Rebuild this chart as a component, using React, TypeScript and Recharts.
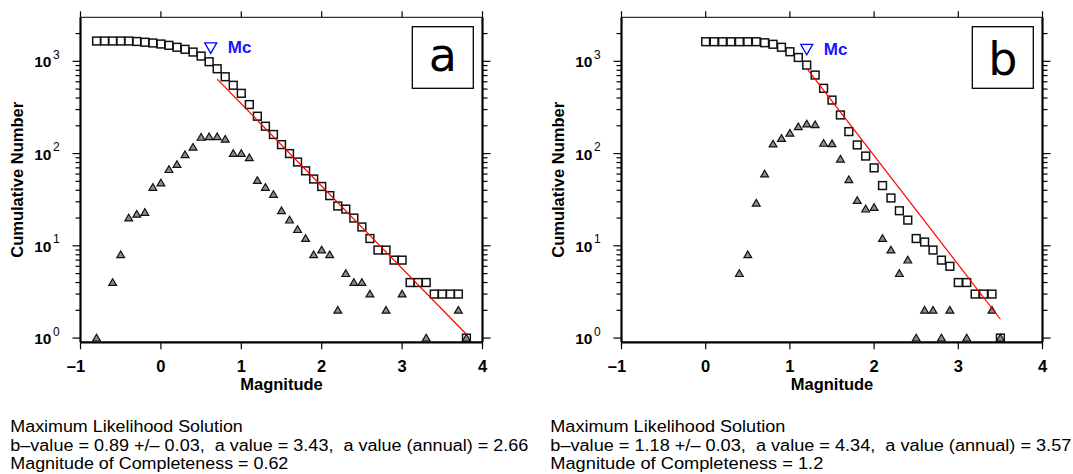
import React from "react";
import { ScatterChart, Scatter, XAxis, YAxis } from "recharts";

// panel a: cumulative counts per magnitude bin
const magsA = [-0.8, -0.7, -0.6, -0.5, -0.4, -0.3, -0.2, -0.1, 0, 0.1, 0.2, 0.3, 0.4, 0.5, 0.6, 0.7, 0.8, 0.9, 1, 1.1, 1.2, 1.3, 1.4, 1.5, 1.6, 1.7, 1.8, 1.9, 2, 2.1, 2.2, 2.3, 2.4, 2.5, 2.6, 2.7, 2.8, 2.9, 3, 3.1, 3.2, 3.3, 3.4, 3.5, 3.6, 3.7, 3.8];
const cumA = [1660, 1660, 1660, 1660, 1660, 1640, 1610, 1580, 1540, 1490, 1420, 1350, 1260, 1140, 990, 830, 680, 550, 450, 340, 254, 198, 161, 125, 100, 81, 65, 53, 44, 35, 27, 25, 20, 16, 12, 9, 9, 7, 7, 4, 4, 4, 3, 3, 3, 3, 1];
// panel a: non-cumulative counts
const binMagsA = [-0.8, -0.6, -0.5, -0.4, -0.3, -0.2, -0.1, 0, 0.1, 0.2, 0.3, 0.4, 0.5, 0.6, 0.7, 0.8, 0.9, 1, 1.1, 1.2, 1.3, 1.4, 1.5, 1.6, 1.7, 1.8, 1.9, 2, 2.1, 2.2, 2.3, 2.4, 2.5, 2.6, 2.8, 3, 3.3, 3.7, 3.8];
const binA = [1, 4, 8, 20, 22, 23, 43, 48, 67, 76, 97, 117, 150, 152, 152, 143, 100, 100, 90, 51, 43, 36, 24, 19, 15, 12, 8, 9, 8, 2, 5, 4, 4, 3, 2, 3, 1, 2, 1];
const fitMagsA = [0.7, 3.8];
const fitA = [640, 1.1];
const mcA = { m: 0.62, n: 1400 };

// panel b
const magsB = [0, 0.1, 0.2, 0.3, 0.4, 0.5, 0.6, 0.7, 0.8, 0.9, 1, 1.1, 1.2, 1.3, 1.4, 1.5, 1.6, 1.7, 1.8, 1.9, 2, 2.1, 2.2, 2.3, 2.4, 2.5, 2.6, 2.7, 2.8, 2.9, 3, 3.1, 3.2, 3.3, 3.4, 3.5];
const cumB = [1630, 1630, 1630, 1630, 1630, 1630, 1630, 1590, 1530, 1420, 1270, 1100, 910, 710, 510, 380, 262, 173, 124, 94, 70, 45, 33, 24, 19, 12, 11, 9, 7, 6, 4, 4, 3, 3, 3, 1];
const binMagsB = [0.4, 0.5, 0.6, 0.7, 0.8, 0.9, 1, 1.1, 1.2, 1.3, 1.4, 1.5, 1.6, 1.7, 1.8, 1.9, 2, 2.1, 2.2, 2.3, 2.4, 2.5, 2.6, 2.7, 2.8, 2.9, 3.1, 3.4, 3.5];
const binB = [5, 8, 29, 60, 127, 146, 166, 195, 209, 205, 129, 128, 87, 52, 31, 25, 26, 12, 9, 5, 7, 1, 2, 2, 1, 2, 1, 2, 1];
const fitMagsB = [1.2, 3.5];
const fitB = [840, 1.6];
const mcB = { m: 1.2, n: 1350 };

const xTicks = [-1, 0, 1, 2, 3, 4];
const yTicks = [1, 2, 3, 4, 5, 6, 7, 8, 9, 10, 20, 30, 40, 50, 60, 70, 80, 90, 100, 200, 300, 400, 500, 600, 700, 800, 900, 1000, 2000];

const textA = [
  "Maximum Likelihood Solution",
  "b\u2013value = 0.89 +/\u2013 0.03,  a value = 3.43,  a value (annual) = 2.66",
  "Magnitude of Completeness = 0.62",
];
const textB = [
  "Maximum Likelihood Solution",
  "b\u2013value = 1.18 +/\u2013 0.03,  a value = 4.34,  a value (annual) = 3.57",
  "Magnitude of Completeness = 1.2",
];

const W = 1073;
const H = 474;
const PLOT_TOP = 17.3;
const PLOT_BOTTOM = 342.3;
const FONT = "'Liberation Sans', Arial, Helvetica, sans-serif";

const pts = (ms: number[], ns: number[]) => ms.map((m, i) => ({ m, n: ns[i] }));

const isMajor = (v: number) => {
  const lg = Math.log10(v);
  return Math.abs(lg - Math.round(lg)) < 1e-6;
};

function LeftTick(props: any) {
  const { x, y, payload } = props;
  const v = payload.value;
  const major = isMajor(v);
  return (
    <g>
      <line x1={x - (major ? 8 : 5)} x2={x} y1={y} y2={y} stroke="#000" strokeWidth={1.2} />
      {major && (
        <g fontFamily={FONT} fill="#000">
          <text x={x - 29} y={y + 6} textAnchor="end" fontWeight="bold" fontSize={15.5}>10</text>
          <text x={x - 27.5} y={y - 2.5} fontSize={12}>{Math.round(Math.log10(v))}</text>
        </g>
      )}
    </g>
  );
}

function RightTick(props: any) {
  const { x, y, payload } = props;
  const major = isMajor(payload.value);
  return <line x1={x} x2={x + (major ? 8 : 5)} y1={y} y2={y} stroke="#000" strokeWidth={1.2} />;
}

function BottomTick(props: any) {
  const { x, y, payload } = props;
  const v = payload.value as number;
  return (
    <g>
      <line x1={x} x2={x} y1={y} y2={y + 7} stroke="#000" strokeWidth={1.2} />
      <text x={x} y={y + 30} textAnchor="middle" fontFamily={FONT} fontWeight="bold" fontSize={16.5} fill="#000">
        {Math.abs(v)}
      </text>
      {v < 0 && (
        <text x={x - 4.5} y={y + 30} textAnchor="end" fontFamily={FONT} fontWeight="bold" fontSize={16.5} fill="#000">
          {"\u2013"}
        </text>
      )}
    </g>
  );
}

function TopTick(props: any) {
  const { x, y } = props;
  return <line x1={x} x2={x} y1={y} y2={y - 6} stroke="#000" strokeWidth={1.2} />;
}

const Square = (p: any) => (
  <rect x={p.cx - 3.9} y={p.cy - 3.9} width={7.8} height={7.8} fill="none" stroke="#111" strokeWidth={1.5} />
);

const Tri = (p: any) => (
  <polygon
    points={`${p.cx},${p.cy - 3.8} ${p.cx + 3.9},${p.cy + 2.9} ${p.cx - 3.9},${p.cy + 2.9}`}
    fill="#8c8c8c"
    stroke="#111"
    strokeWidth={1.2}
  />
);

const McMark = (p: any) => (
  <g>
    <polygon
      points={`${p.cx - 6},${p.cy - 5} ${p.cx + 6},${p.cy - 5} ${p.cx},${p.cy + 5.5}`}
      fill="none"
      stroke="#0000ff"
      strokeWidth={1.3}
    />
    <text x={p.cx + 17} y={p.cy + 5.5} fill="#1515ff" fontFamily={FONT} fontWeight="bold" fontSize={17}>Mc</text>
  </g>
);

const NoDot = () => <g />;

type PanelProps = {
  left: number;
  width: number;
  plotLeft: number;
  plotRight: number;
  squares: { m: number; n: number }[];
  triangles: { m: number; n: number }[];
  fit: { m: number; n: number }[];
  mc: { m: number; n: number };
};

// axes get 1px of room (recharts skips drawing zero-size axes); margins absorb it
function Panel({ left, width, plotLeft, plotRight, squares, triangles, fit, mc }: PanelProps) {
  const axisLine = { stroke: "#000", strokeWidth: 2.2 };
  return (
    <div style={{ position: "absolute", left, top: 0, width, height: H }}>
      <ScatterChart
        width={width}
        height={H}
        margin={{ top: PLOT_TOP - 1, right: width - plotRight - 1, bottom: H - PLOT_BOTTOM - 1, left: plotLeft - 1 }}
      >
        <XAxis
          xAxisId="b"
          type="number"
          dataKey="m"
          domain={[-1, 4]}
          ticks={xTicks}
          interval={0}
          allowDataOverflow
          height={1}
          tickSize={0}
          tickMargin={0}
          tickLine={false}
          axisLine={axisLine}
          tick={(p: any) => <BottomTick {...p} />}
        />
        <XAxis
          xAxisId="t"
          orientation="top"
          type="number"
          dataKey="m"
          domain={[-1, 4]}
          ticks={xTicks}
          interval={0}
          allowDataOverflow
          height={1}
          tickSize={0}
          tickMargin={0}
          tickLine={false}
          axisLine={{ stroke: "#000", strokeWidth: 1 }}
          tick={(p: any) => <TopTick {...p} />}
        />
        <YAxis
          yAxisId="l"
          type="number"
          dataKey="n"
          scale="log"
          domain={[0.9, 3000]}
          ticks={yTicks}
          interval={0}
          allowDataOverflow
          width={1}
          tickSize={0}
          tickMargin={0}
          tickLine={false}
          axisLine={axisLine}
          tick={(p: any) => <LeftTick {...p} />}
        />
        <YAxis
          yAxisId="r"
          orientation="right"
          type="number"
          dataKey="n"
          scale="log"
          domain={[0.9, 3000]}
          ticks={yTicks}
          interval={0}
          allowDataOverflow
          width={1}
          tickSize={0}
          tickMargin={0}
          tickLine={false}
          axisLine={axisLine}
          tick={(p: any) => <RightTick {...p} />}
        />
        <Scatter xAxisId="b" yAxisId="l" data={squares} shape={Square} isAnimationActive={false} />
        <Scatter xAxisId="b" yAxisId="l" data={triangles} shape={Tri} isAnimationActive={false} />
        <Scatter
          xAxisId="b"
          yAxisId="l"
          data={fit}
          shape={NoDot}
          line={{ stroke: "#ff0000", strokeWidth: 1.2 }}
          isAnimationActive={false}
        />
        <Scatter xAxisId="b" yAxisId="l" data={[mc]} shape={McMark} isAnimationActive={false} />
      </ScatterChart>
    </div>
  );
}

function Labels({ x0, plotLeft, plotRight, letter, letterBase, lines, widths }: any) {
  const cx = (x0 + plotLeft + x0 + plotRight) / 2;
  const boxRight = x0 + plotRight - 9.2;
  const yMid = (PLOT_TOP + PLOT_BOTTOM) / 2;
  const tx = x0 + plotLeft - 57;
  const baselines = [432, 450.5, 469];
  return (
    <g fontFamily={FONT} fill="#000">
      <rect x={boxRight - 61} y={26.7} width={61} height={61.6} fill="#fff" stroke="#000" strokeWidth={1.3} />
      <text
        x={boxRight - 30.5}
        y={letterBase}
        textAnchor="middle"
        fontFamily="'DejaVu Sans', sans-serif"
        fontSize={46}
      >
        {letter}
      </text>
      <text x={cx} y={390} textAnchor="middle" fontWeight="bold" fontSize={16.5}>Magnitude</text>
      <text
        x={tx}
        y={yMid}
        transform={`rotate(-90 ${tx} ${yMid})`}
        textAnchor="middle"
        fontWeight="bold"
        fontSize={16.5}
      >
        Cumulative Number
      </text>
      {lines.map((t: string, i: number) => (
        <text
          key={i}
          x={x0 + 10.3}
          y={baselines[i]}
          fontSize={16}
          textLength={widths[i]}
          lengthAdjust="spacingAndGlyphs"
          style={{ whiteSpace: "pre" }}
        >
          {t}
        </text>
      ))}
    </g>
  );
}

export default function App() {
  return (
    <div style={{ position: "absolute", left: 0, top: 0, width: W, height: H, background: "#fff", overflow: "hidden" }}>
      <Panel
        left={0}
        width={540}
        plotLeft={80.5}
        plotRight={482.5}
        squares={pts(magsA, cumA)}
        triangles={pts(binMagsA, binA)}
        fit={pts(fitMagsA, fitA)}
        mc={mcA}
      />
      <Panel
        left={540}
        width={533}
        plotLeft={81.5}
        plotRight={502.5}
        squares={pts(magsB, cumB)}
        triangles={pts(binMagsB, binB)}
        fit={pts(fitMagsB, fitB)}
        mc={mcB}
      />
      <svg width={W} height={H} style={{ position: "absolute", left: 0, top: 0, pointerEvents: "none" }}>
        <Labels x0={0} plotLeft={80.5} plotRight={482.5} letter="a" letterBase={70.7} lines={textA} widths={[232.5, 518, 278]} />
        <Labels x0={540} plotLeft={81.5} plotRight={502.5} letter="b" letterBase={75} lines={textB} widths={[235, 521, 273]} />
      </svg>
    </div>
  );
}
